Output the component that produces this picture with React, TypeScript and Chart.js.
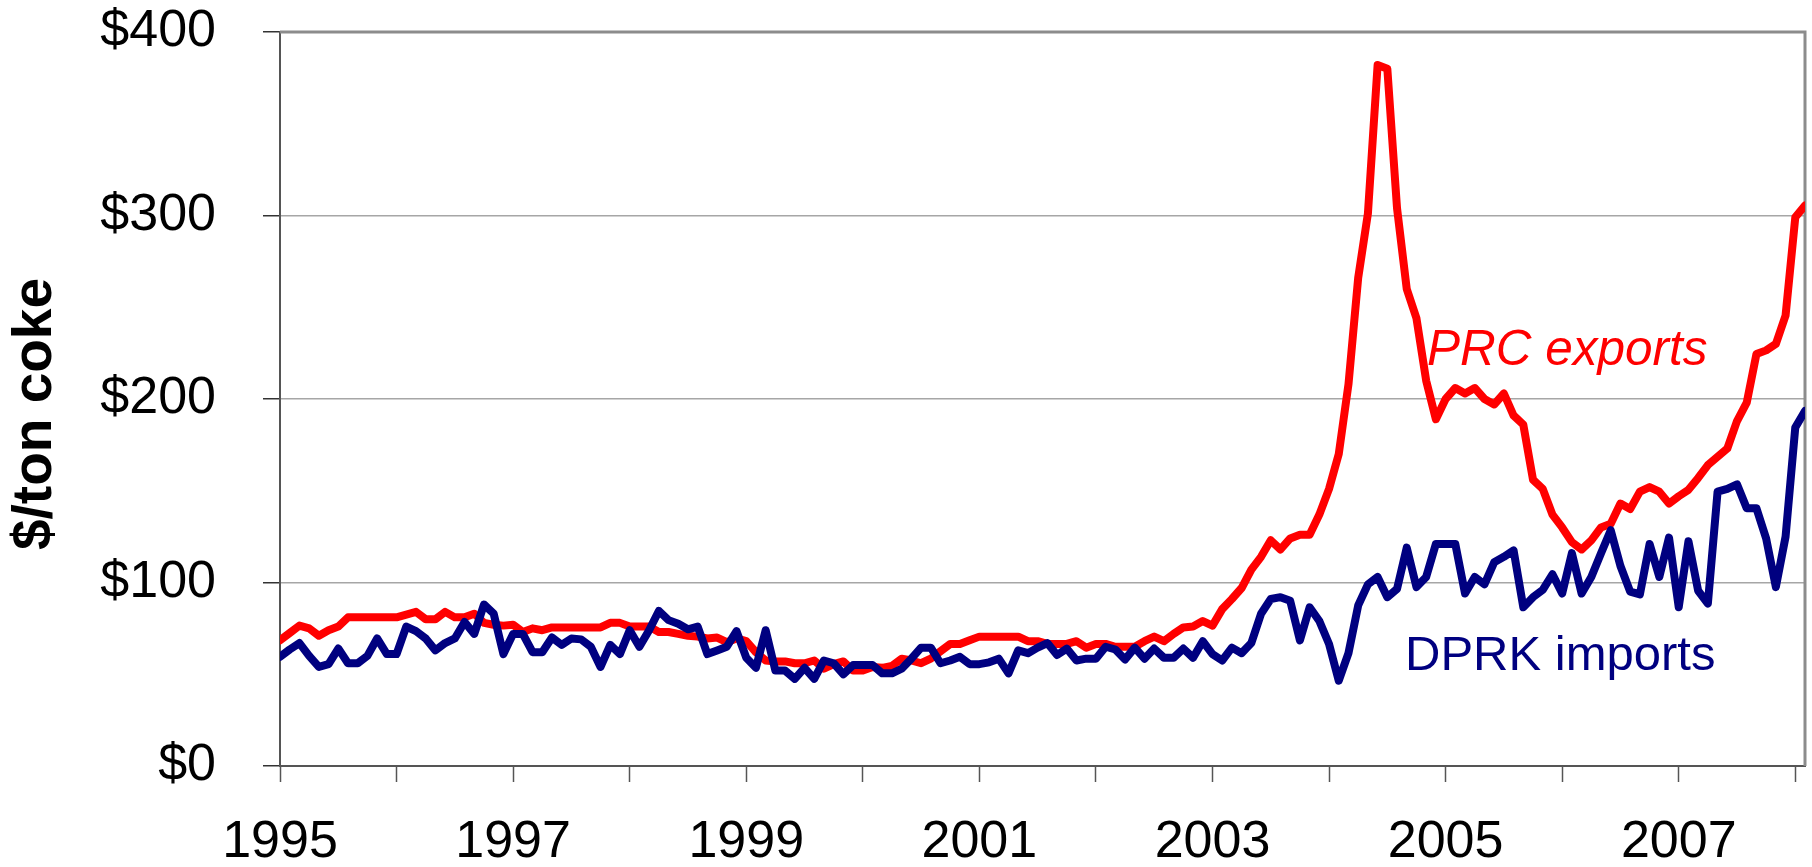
import React, { useEffect, useRef } from 'react';
import { Chart, registerables } from 'chart.js';

Chart.register(...registerables);

// Monthly series, Jan 1995 .. Feb 2008 (index 0 = Jan 1995)
const axisYears = [1995, 1996, 1997, 1998, 1999, 2000, 2001, 2002, 2003, 2004, 2005, 2006, 2007, 2008];
const labeledYears = [1995, 1997, 1999, 2001, 2003, 2005, 2007];
const yTickValues = [0, 100, 200, 300, 400];

const prcExports = [
  68.5, 72.5, 76.5, 75, 71, 74, 76, 81, 81, 81,
  81, 81, 81, 82.5, 84, 80, 80, 84, 81, 81,
  83, 78, 77, 76.5, 77, 73, 75, 74, 75.5, 75.5,
  75.5, 75.5, 75.5, 75.5, 78, 78, 76, 76, 76, 73,
  73, 72, 71, 70.5, 69.5, 70, 67.5, 69.5, 68, 62,
  57.5, 57, 57, 56, 56, 57.5, 53, 55.5, 57, 52,
  52, 54, 53.5, 54.5, 58.5, 57.5, 56, 58.5, 62.5, 66.5,
  66.5, 68.5, 70.5, 70.5, 70.5, 70.5, 70.5, 68, 68, 66.5,
  66.5, 66.5, 68, 64.5, 66.5, 66.5, 65, 65, 65, 68,
  70.5, 68, 72, 75.5, 76, 79, 76.5, 85.5, 91, 97,
  107, 114, 123, 118, 124, 126, 126, 137, 151, 170,
  208, 266, 301, 382, 380, 304, 260, 244, 210, 189,
  200, 206, 203, 206, 200, 197, 203, 191, 186, 156,
  151, 137, 130, 122, 118, 123, 130, 132, 143, 140,
  149.5, 152, 149.5, 143, 147, 150.5, 157, 164, 168.5, 173,
  188, 198, 224.5, 226.5, 230, 245.5, 299, 305.5,
];

const dprkImports = [
  59.5, 63.5, 67, 60, 54, 55.5, 64, 56, 56, 60,
  69.5, 61, 61, 76, 73.5, 69.5, 63, 67, 69.5, 78.5,
  72, 88, 83, 61, 72, 72, 62, 62, 70, 66,
  69.5, 69, 65, 54, 66, 61, 74, 65, 74, 84.5,
  79.5, 77.5, 74.5, 76, 61, 63, 65, 73.5, 59, 53.5,
  74, 52, 52, 47.5, 53.5, 47.5, 57.5, 56, 50, 55,
  55, 55, 50.5, 50.5, 53, 58.5, 64.5, 64.5, 56, 57.5,
  59.5, 55.5, 55.5, 56.5, 58.5, 50.5, 63, 61.5, 64.5, 67,
  60.5, 64, 57.5, 58.5, 58.5, 65, 63.5, 58, 64.5, 58.5,
  64, 59, 59, 64, 59, 68, 61, 57.5, 64.5, 61.5,
  67, 83, 91, 92, 90, 68.5, 86.5, 79, 66.5, 46.5,
  61.5, 87.5, 99, 103, 92, 96.5, 119, 97.5, 103, 121,
  121, 121, 94, 103, 99, 111, 114, 117.5, 86.5, 92,
  96, 104.5, 94, 116, 94, 103, 116, 128.5, 109, 95,
  93.5, 121, 103, 124.5, 86.5, 122.5, 95.5, 88.5, 149.5, 151,
  153.5, 140.5, 140.5, 124, 97.5, 125, 184.5, 193.5,
];

const FONT = '"Liberation Sans", Arial, sans-serif';

const toPoints = (arr: number[]) => arr.map((v, i) => ({ x: i, y: v }));

const decorPlugin = {
  id: 'decor',
  beforeDatasetsDraw(chart: any) {
    const { ctx, chartArea: a } = chart;
    ctx.save();
    ctx.strokeStyle = '#8c8c8c';
    ctx.lineWidth = 3;
    ctx.beginPath();
    ctx.moveTo(a.left, a.top);
    ctx.lineTo(a.right, a.top);
    ctx.lineTo(a.right, a.bottom);
    ctx.stroke();
    ctx.restore();
  },
  afterDraw(chart: any) {
    const { ctx } = chart;
    ctx.save();
    ctx.translate(36, 414);
    ctx.rotate(-Math.PI / 2);
    ctx.font = `bold 55px ${FONT}`;
    ctx.fillStyle = '#000000';
    ctx.textAlign = 'center';
    ctx.textBaseline = 'middle';
    ctx.fillText('$/ton coke', 0, 0);
    ctx.restore();

    ctx.save();
    ctx.textAlign = 'left';
    ctx.textBaseline = 'alphabetic';
    ctx.font = `italic 49.5px ${FONT}`;
    ctx.fillStyle = '#ff0000';
    ctx.fillText('PRC exports', 1427, 365);
    ctx.font = `49px ${FONT}`;
    ctx.fillStyle = '#000080';
    ctx.fillText('DPRK imports', 1405, 670);
    ctx.restore();
  },
};

export default function App() {
  const ref = useRef<HTMLCanvasElement | null>(null);

  useEffect(() => {
    if (!ref.current) return;
    const chart = new Chart(ref.current, {
      type: 'line',
      data: {
        datasets: [
          {
            label: 'PRC exports',
            data: toPoints(prcExports),
            borderColor: '#ff0000',
            borderWidth: 8,
            pointRadius: 0,
            tension: 0,
            borderJoinStyle: 'round',
            borderCapStyle: 'round',
            order: 1,
          },
          {
            label: 'DPRK imports',
            data: toPoints(dprkImports),
            borderColor: '#000080',
            borderWidth: 8,
            pointRadius: 0,
            tension: 0,
            borderJoinStyle: 'round',
            borderCapStyle: 'round',
            order: 0,
          },
        ],
      },
      options: {
        responsive: false,
        animation: false,
        events: [],
        layout: { padding: { top: 32, right: 7, left: 0, bottom: 0 } },
        plugins: {
          legend: { display: false },
          tooltip: { enabled: false },
          title: { display: false },
        },
        scales: {
          x: {
            type: 'linear',
            min: 0,
            max: prcExports.length - 1,
            afterBuildTicks: (s: any) => {
              s.ticks = axisYears.map((y) => ({ value: (y - axisYears[0]) * 12 }));
            },
            afterFit: (s: any) => {
              s.height = 101;
              s.paddingLeft = 0;
              s.paddingRight = 0;
              s.paddingTop = 0;
              s.paddingBottom = 0;
            },
            ticks: {
              autoSkip: false,
              maxRotation: 0,
              minRotation: 0,
              padding: 29,
              color: '#000000',
              font: { family: FONT, size: 52 },
              callback: (v: any) => {
                const year = axisYears[0] + Math.round(Number(v) / 12);
                return labeledYears.includes(year) ? String(year) : '';
              },
            },
            grid: {
              drawOnChartArea: false,
              drawTicks: true,
              tickLength: 16,
              tickColor: '#555555',
              tickWidth: 1.5,
            },
            border: { color: '#555555', width: 2 },
          },
          y: {
            type: 'linear',
            min: 0,
            max: 400,
            afterBuildTicks: (s: any) => {
              s.ticks = yTickValues.map((v) => ({ value: v }));
            },
            afterFit: (s: any) => {
              s.width = 280;
              s.paddingLeft = 0;
              s.paddingRight = 0;
              s.paddingTop = 0;
              s.paddingBottom = 0;
            },
            ticks: {
              padding: 47,
              color: '#000000',
              font: { family: FONT, size: 52 },
              callback: (v: any) => '$' + v,
            },
            grid: {
              color: '#a6a6a6',
              lineWidth: 1.5,
              drawTicks: true,
              tickLength: 17,
              tickColor: '#333333',
              tickWidth: 1.5,
            },
            border: { color: '#555555', width: 2 },
          },
        },
      },
      plugins: [decorPlugin],
    });
    return () => chart.destroy();
  }, []);

  return (
    <div style={{ position: 'fixed', left: 0, top: 0, width: 1812, height: 867, background: '#ffffff' }}>
      <canvas ref={ref} width={1812} height={867} />
    </div>
  );
}
